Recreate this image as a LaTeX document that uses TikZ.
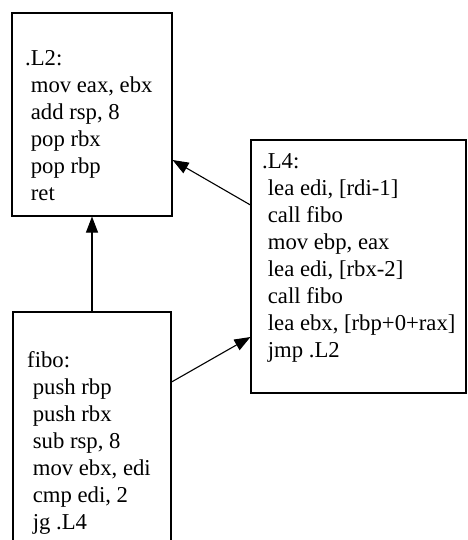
\documentclass[tikz,border=0pt]{standalone}
\usepackage{fontspec}
\setmainfont{Liberation Serif}
\usetikzlibrary{arrows.meta}
\begin{document}
\begin{tikzpicture}[x=1pt,y=-1pt,
  box/.style={draw, line width=1.1pt, inner sep=0pt},
  code/.style={inner sep=0pt, anchor=base west, font=\fontsize{22.7}{27}\selectfont},
  link/.style={line width=1.1pt, -{Triangle[length=16pt,width=12pt]}}]
\useasboundingbox (0,0) rectangle (467,540);
% boxes
\node[box, minimum width=160pt, minimum height=203pt] (L2) at (92,114.5) {};
\node[box, minimum width=215pt, minimum height=253pt] (L4) at (358.5,266.5) {};
\node[box, minimum width=158pt, minimum height=229pt] (fibo) at (92,426.5) {};
% texts
\node[code] (L2t) at (25,66) {\begin{tabular}[t]{@{}l@{}}.L2:\\
\ mov eax, ebx\\
\ add rsp, 8\\
\ pop rbx\\
\ pop rbp\\
\ ret\end{tabular}};
\node[code] (L4t) at (262,168) {\begin{tabular}[t]{@{}l@{}}.L4:\\
\ lea edi, [rdi-1]\\
\ call fibo\\
\ mov ebp, eax\\
\ lea edi, [rbx-2]\\
\ call fibo\\
\ lea ebx, [rbp+0+rax]\\
\ jmp .L2\end{tabular}};
\node[code] (fibot) at (27,367) {\begin{tabular}[t]{@{}l@{}}fibo:\\
\ push rbp\\
\ push rbx\\
\ sub rsp, 8\\
\ mov ebx, edi\\
\ cmp edi, 2\\
\ jg .L4\end{tabular}};
% connectors
\draw[link] (fibo.north) -- (L2.south);
\draw[link] ([yshift=44.5pt]fibo.east) -- ([yshift=-70.5pt]L4.west);
\draw[link] ([yshift=61.5pt]L4.west) -- ([yshift=-45.5pt]L2.east);
\end{tikzpicture}
\end{document}
